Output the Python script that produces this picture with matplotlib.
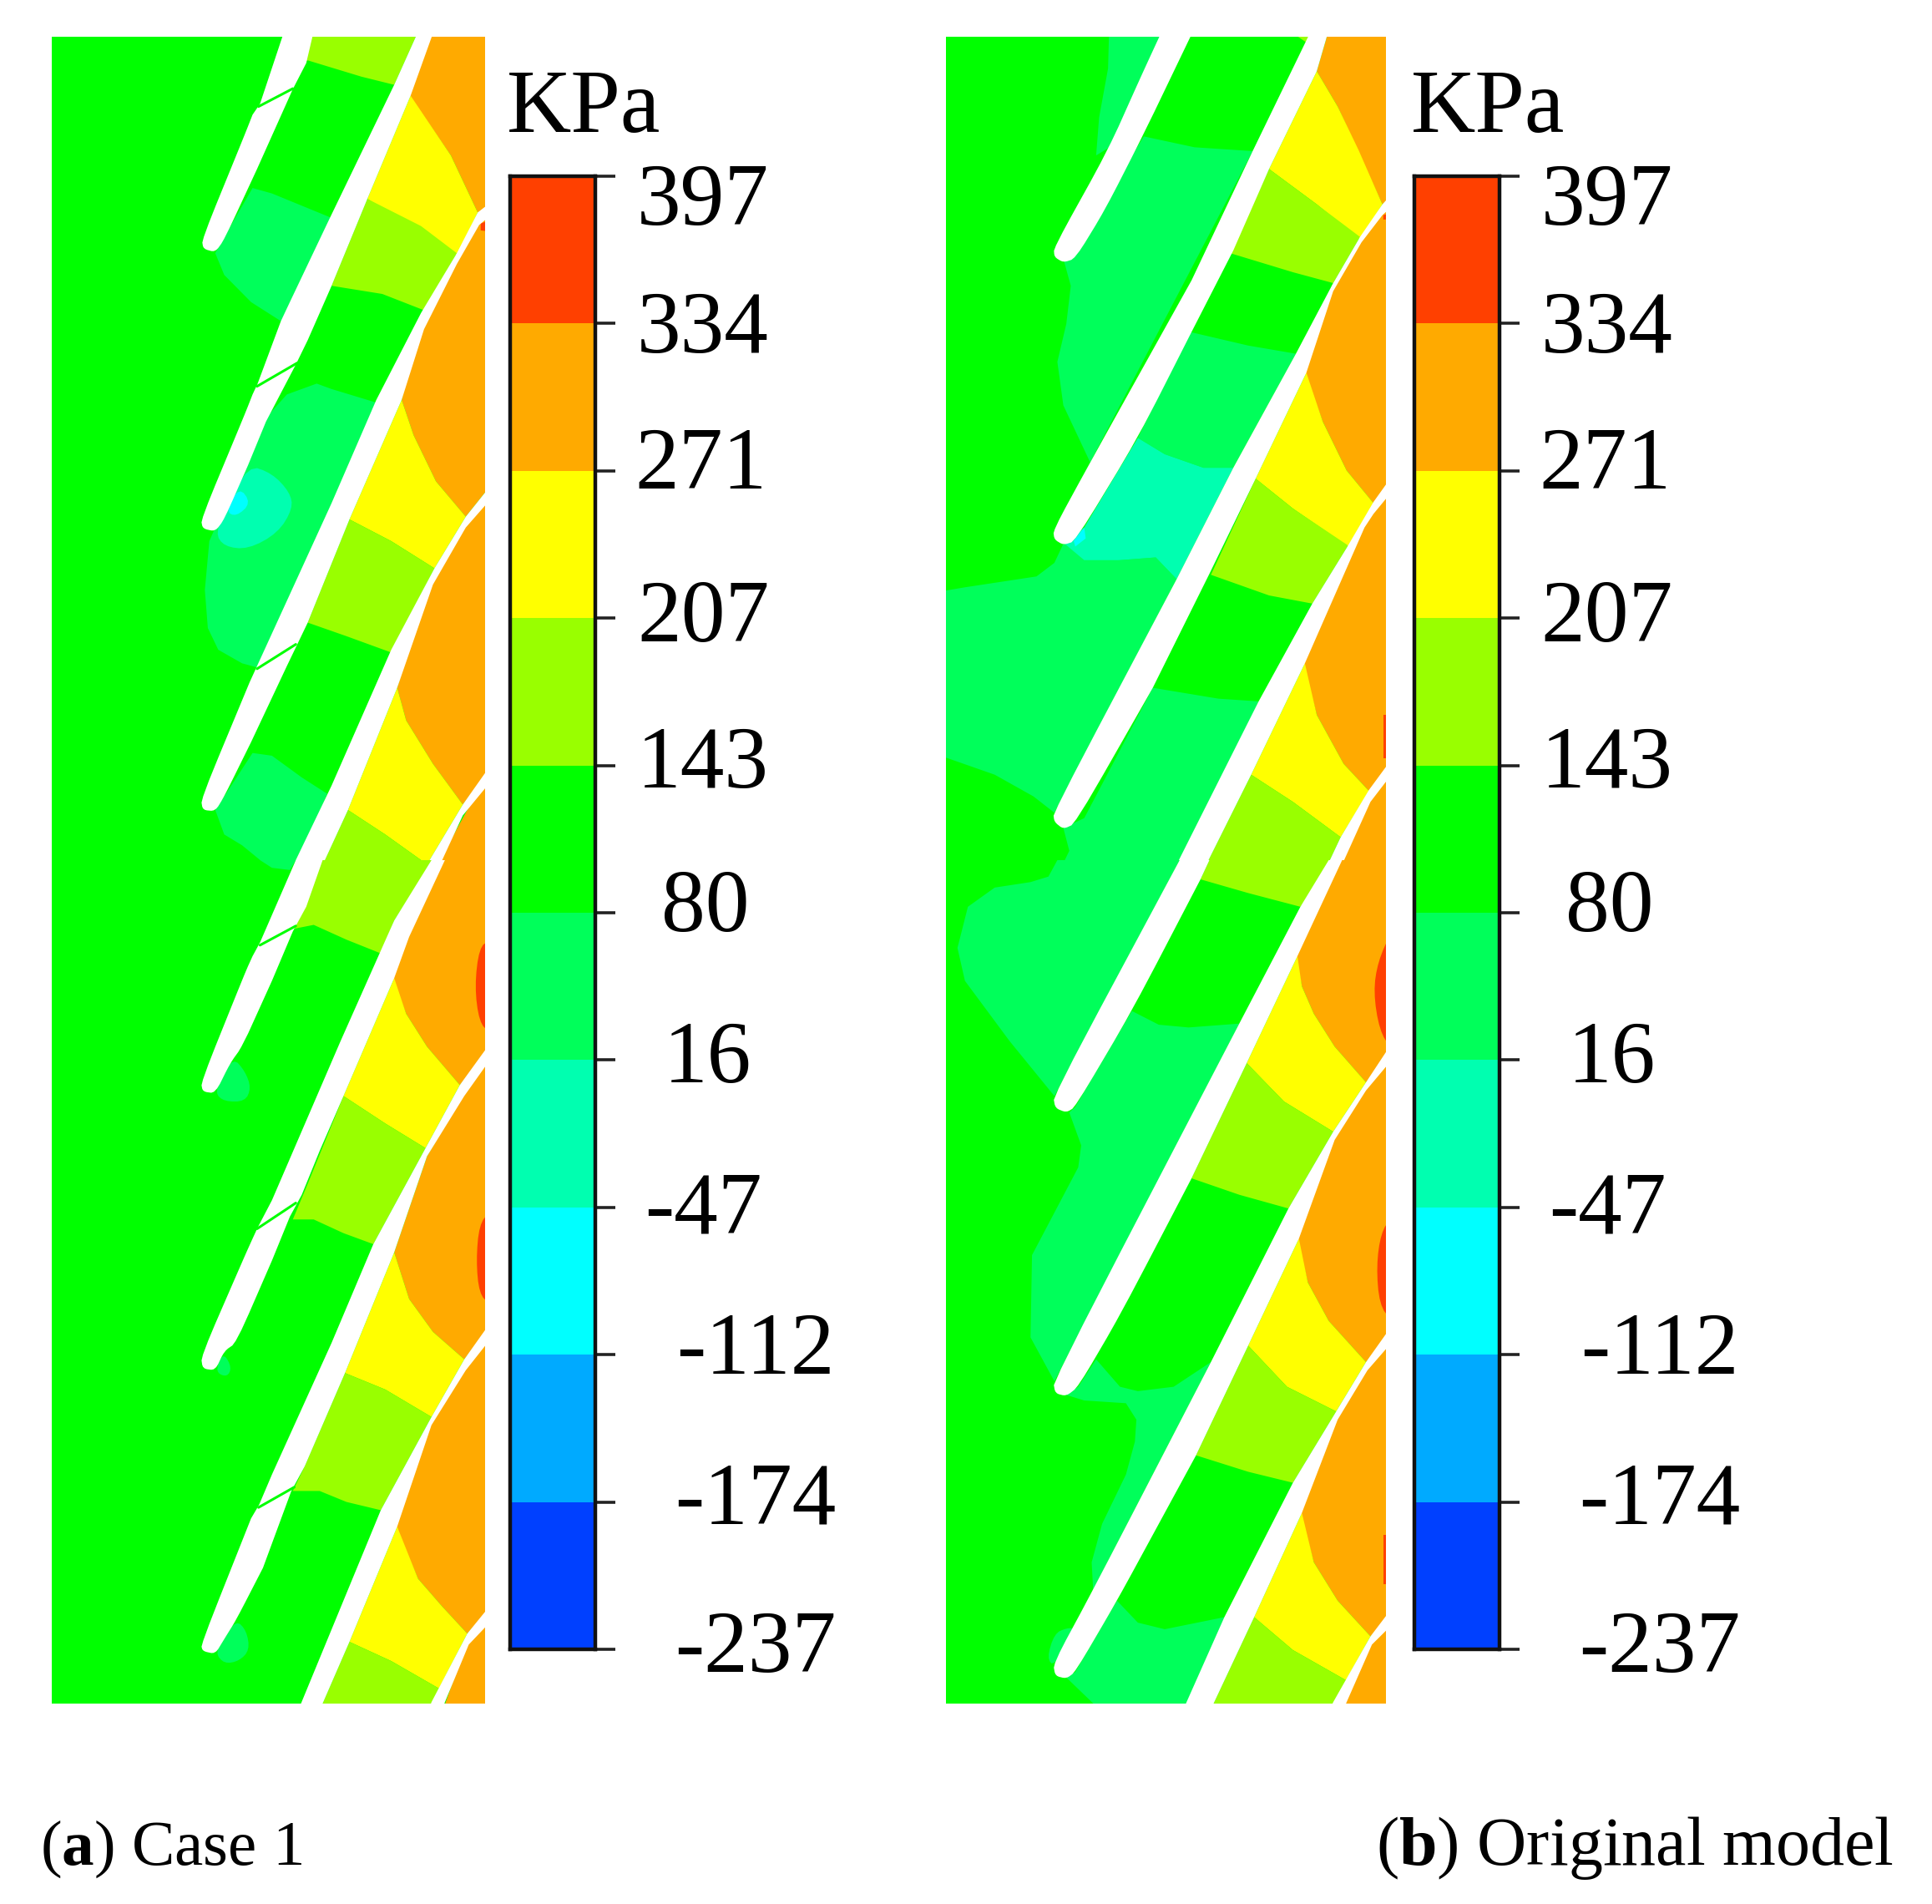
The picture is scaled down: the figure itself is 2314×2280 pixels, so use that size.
import numpy as np
import matplotlib
matplotlib.use("Agg")
import matplotlib.pyplot as plt
from matplotlib.colors import ListedColormap, BoundaryNorm

W, H = 2314, 2280
plt.rcParams['font.family'] = ['Liberation Serif', 'DejaVu Serif']
plt.rcParams['mathtext.fontset'] = 'custom'
plt.rcParams['mathtext.rm'] = 'Liberation Serif'
plt.rcParams['mathtext.bf'] = 'Liberation Serif:bold'

LEVELS = [-237, -174, -112, -47, 16, 80, 143, 207, 271, 334, 397]
COLORS = ['#0040FF', '#00AAFF', '#00FFFF', '#00FFB0', '#00FF5A',
          '#00FF00', '#99FF00', '#FFFF00', '#FFAA00', '#FF4000']
UNIT = 'KPa'
CAPTIONS = [r'($\mathbf{a}$) Case 1', r'($\mathbf{b}$) Original model']

# pressure read for each contour band (kPa)
R, O, Y, L, G, S, A, C = 365, 302, 239, 175, 111, 48, -15, -80

# contour regions: (pressure, outline, smooth?)
REGIONS_A_UP = [
    (L, [(940,0),(1300,0),(1210,110),(1100,95),(920,65),(900,70)], 0),
    (S, [(735,300),(800,310),(1000,355),(860,540),(830,545),(730,510),(640,460),(610,420),(640,390)], 0),
    (O, [(1340,0),(1530,0),(1530,335),(1490,345),(1400,240),(1262,130)], 0),
    (Y, [(1265,130),(1400,240),(1490,345),(1420,425),(1300,380),(1120,320)], 0),
    (L, [(1120,320),(1300,370),(1420,420),(1310,525),(1170,495),(1000,480)], 0),
    (S, [(850,680),(950,660),(1000,670),(1150,695),(800,1190),(700,1175),(620,1150),(585,1110),(575,1040),(590,950),(610,925),(720,760)], 0),
    (A, [(720,810),(800,825),(860,860),(870,890),(820,935),(720,965),(640,960),(610,935),(650,890)], 1),
    (C, [(690,850),(730,880),(680,905),(645,895)], 1),
    (O, [(1530,340),(1420,425),(1300,545),(1235,690),(1275,755),(1350,840),(1450,905),(1530,850)], 0),
    (R, [(1490,885),(1530,865),(1530,910),(1490,905)], 0),
    (R, [(1500,365),(1530,360),(1530,380),(1500,378)], 0),
    (Y, [(1235,690),(1275,755),(1350,840),(1450,905),(1345,1000),(1200,950),(1060,910)], 0),
    (L, [(1060,910),(1200,950),(1345,1000),(1200,1155),(1050,1125),(920,1100)], 0),
    (S, [(735,1340),(800,1345),(900,1385),(985,1415),(850,1600),(800,1555),(700,1510),(640,1490),(610,1445)], 0),
    (O, [(1530,860),(1440,915),(1330,1020),(1220,1220),(1250,1280),(1340,1360),(1440,1435),(1530,1370)], 0),
    (Y, [(1220,1220),(1250,1280),(1340,1360),(1440,1435),(1320,1545),(1180,1490),(1055,1445)], 0),
    (L, [(1055,1445),(1180,1490),(1320,1545),(1300,1600),(925,1600)], 0),
    (R, [(1480,1430),(1530,1390),(1530,1435)], 0),
    (O, [(1530,1370),(1300,1600),(1530,1600)], 0),
]
BLADES_A_UP = [
    [(848,0),(760,145),(735,165),(710,200),(565,395),(570,412),(610,418),(640,395),(750,265),(870,118),(915,70),(945,0)],
    [(1300,0),(1210,110),(990,360),(860,510),(830,545),(752,660),(735,680),(710,715),(562,910),(568,927),(610,932),(640,910),(720,810),(780,730),(880,625),(920,580),(1000,480),(1120,320),(1265,130),(1350,0)],
    [(1530,328),(1490,345),(1420,420),(1300,530),(1150,690),(1000,880),(800,1120),(750,1180),(725,1210),(562,1425),(568,1445),(610,1447),(640,1420),(730,1320),(850,1180),(885,1140),(920,1100),(1060,910),(1235,690),(1310,560),(1420,440),(1495,368),(1530,352)],
    [(1530,850),(1450,905),(1345,1000),(1200,1150),(1000,1400),(825,1600),(925,1600),(1055,1445),(1220,1220),(1340,1030),(1450,925),(1530,875)],
    [(1530,1365),(1440,1435),(1320,1545),(1280,1600),(1320,1600),(1345,1568),(1440,1455),(1530,1395)],
]
SLITS_A_UP = [[(755,150),(870,117)], [(750,665),(885,622)], [(750,1185),(880,1140)]]

REGIONS_A_LO = [
    (S, [(760,0),(880,0),(860,18),(800,14)], 0),
    (L, [(960,0),(1340,0),(1210,110),(1165,170),(1050,145),(940,118),(875,125),(905,90)], 0),
    (S, [(670,360),(710,385),(730,415),(710,440),(640,440),(610,425),(630,400)], 1),
    (O, [(1375,0),(1530,0),(1530,345),(1430,410),(1320,340),(1250,280),(1205,215),(1255,135)], 0),
    (R, [(1530,145),(1495,160),(1480,230),(1495,295),(1530,315)], 1),
    (Y, [(1210,215),(1250,280),(1320,340),(1430,410),(1315,525),(1180,480),(1040,430)], 0),
    (L, [(1040,430),(1180,480),(1315,525),(1140,700),(1040,680),(940,655),(870,655),(920,590)], 0),
    (S, [(640,900),(665,925),(650,942),(615,935),(620,915)], 1),
    (R, [(1470,410),(1530,365),(1530,410)], 0),
    (O, [(1530,345),(1320,540),(1210,715),(1260,800),(1340,860),(1445,910),(1530,850)], 0),
    (R, [(1530,640),(1495,665),(1485,730),(1495,790),(1530,810)], 1),
    (R, [(1480,910),(1530,870),(1530,915)], 0),
    (Y, [(1210,715),(1260,800),(1340,860),(1445,910),(1335,1015),(1180,965),(1045,935)], 0),
    (L, [(1045,935),(1180,965),(1335,1015),(1165,1185),(1050,1170),(960,1150),(870,1150),(910,1105)], 0),
    (S, [(680,1385),(715,1405),(725,1440),(690,1460),(640,1465),(610,1445),(640,1420)], 1),
    (O, [(1530,850),(1445,920),(1330,1025),(1215,1215),(1290,1310),(1370,1360),(1455,1410),(1530,1365)], 0),
    (Y, [(1220,1215),(1290,1310),(1370,1360),(1455,1410),(1360,1510),(1200,1460),(1060,1425)], 0),
    (L, [(1060,1425),(1200,1460),(1360,1510),(1310,1600),(920,1600)], 0),
    (R, [(1480,1420),(1530,1385),(1530,1420)], 0),
    (O, [(1530,1365),(1455,1425),(1340,1600),(1530,1600)], 0),
]
BLADES_A_LO = [
    [(880,0),(760,150),(735,175),(710,205),(562,405),(568,422),(610,425),(660,370),(700,340),(800,220),(870,130),(915,85),(970,0)],
    [(1335,0),(1210,110),(1030,330),(800,620),(752,670),(735,690),(710,720),(562,905),(568,927),(610,930),(640,895),(680,880),(800,730),(860,650),(900,610),(960,530),(1040,430),(1210,215),(1260,140),(1380,0)],
    [(1530,335),(1430,410),(1315,525),(1140,700),(1000,880),(800,1120),(757,1175),(730,1200),(562,1430),(568,1442),(610,1447),(640,1420),(680,1385),(770,1290),(865,1150),(910,1105),(1045,935),(1210,715),(1320,540),(1445,430),(1530,365)],
    [(1530,845),(1445,910),(1335,1015),(1165,1185),(850,1600),(920,1600),(1060,1425),(1220,1215),(1335,1030),(1450,930),(1530,875)],
    [(1530,1360),(1455,1410),(1335,1535),(1290,1600),(1340,1600),(1380,1535),(1460,1430),(1530,1390)],
]
SLITS_A_LO = [[(760,155),(880,120)], [(750,672),(880,625)], [(755,1180),(875,1143)]]

REGIONS_B_UP = [
    (S, [(585,-20),(800,-20),(600,220),(540,240),(550,170),(580,80)], 0),
    (L, [(1160,0),(1290,0),(1245,32)], 0),
    (S, [(700,205),(870,225),(1065,232),(520,805),(430,700),(410,620),(440,550),(455,480),(430,430),(490,390)], 0),
    (O, [(1325,0),(1530,0),(1530,315),(1500,330),(1350,150),(1280,85)], 0),
    (Y, [(1280,85),(1350,150),(1420,230),(1500,330),(1425,395),(1280,330),(1120,265)], 0),
    (L, [(1120,265),(1280,330),(1425,390),(1335,475),(1200,455),(990,420)], 0),
    (S, [(855,565),(1050,590),(1210,605),(1000,815),(900,815),(770,790),(680,760)], 0),
    (S, [(-60,1050),(100,1035),(340,1015),(400,990),(430,955),(620,985),(740,980),(810,1020),(400,1450),(330,1420),(200,1380),(-60,1330)], 0),
    (A, [(680,760),(770,790),(900,815),(1000,815),(810,1020),(740,980),(620,985),(500,985),(435,955),(500,925)], 0),
    (C, [(465,950),(500,925),(505,945),(470,960)], 0),
    (O, [(1530,320),(1425,395),(1330,480),(1240,640),(1300,730),(1380,820),(1470,880),(1530,835)], 0),
    (R, [(1475,905),(1530,865),(1530,910)], 0),
    (R, [(1503,350),(1530,345),(1530,358),(1503,358)], 0),
    (Y, [(1245,640),(1300,730),(1380,820),(1470,880),(1385,960),(1200,890),(1075,835)], 0),
    (L, [(1075,835),(1200,890),(1385,958),(1265,1065),(1120,1050),(925,1012)], 0),
    (S, [(730,1220),(950,1240),(1085,1245),(790,1600),(380,1600),(450,1520),(430,1478),(500,1460)], 0),
    (O, [(1530,840),(1430,920),(1235,1175),(1280,1270),(1370,1360),(1455,1410),(1530,1355)], 0),
    (R, [(1465,1430),(1530,1385),(1530,1435)], 0),
    (R, [(1503,1270),(1530,1270),(1530,1350),(1503,1350)], 0),
    (Y, [(1240,1175),(1280,1270),(1370,1360),(1455,1410),(1360,1495),(1200,1430),(1060,1380)], 0),
    (L, [(1060,1380),(1200,1430),(1360,1495),(1270,1600),(860,1600)], 0),
    (O, [(1530,1365),(1270,1600),(1530,1600)], 0),
]
BLADES_B_UP = [
    [(770,0),(690,95),(580,230),(398,410),(400,427),(430,437),(470,430),(570,340),(700,200),(875,0)],
    [(1270,0),(1065,232),(860,470),(520,805),(396,930),(400,947),(430,957),(470,950),(680,760),(860,565),(1000,415),(1120,265),(1280,85),(1325,0)],
    [(1530,312),(1500,330),(1425,390),(1335,475),(1210,605),(1000,815),(810,1020),(396,1450),(400,1467),(430,1480),(470,1470),(730,1220),(920,1010),(1075,835),(1245,640),(1335,490),(1430,400),(1500,350),(1530,335)],
    [(1530,832),(1470,878),(1385,958),(1265,1065),(1085,1245),(760,1600),(860,1600),(1060,1380),(1240,1175),(1440,925),(1470,900),(1530,860)],
    [(1530,1352),(1455,1408),(1360,1495),(1270,1600),(1320,1600),(1460,1430),(1530,1380)],
]

REGIONS_B_LO = [
    (S, [(430,-20),(840,-20),(400,430),(340,390),(250,330),(100,220),(75,160),(110,85),(200,50),(320,40),(380,30)], 0),
    (L, [(920,0),(1340,0),(1225,85),(1050,60),(890,35)], 0),
    (S, [(660,275),(750,300),(850,305),(1020,298),(400,950),(320,870),(325,720),(480,560),(490,520),(450,460),(470,450)], 0),
    (O, [(1360,0),(1530,0),(1530,345),(1445,405),(1340,340),(1270,280),(1230,230),(1210,175)], 0),
    (R, [(1530,130),(1485,185),(1470,240),(1490,310),(1530,345)], 1),
    (R, [(1460,420),(1530,365),(1530,425),(1480,430)], 0),
    (Y, [(1215,175),(1230,230),(1270,280),(1340,340),(1445,405),(1335,495),(1170,440),(1045,370)], 0),
    (L, [(1045,370),(1170,440),(1335,495),(1185,635),(1020,610),(860,580)], 0),
    (S, [(480,960),(540,910),(620,960),(680,968),(800,960),(925,915),(530,1330),(525,1280),(560,1210),(640,1120),(670,1060),(675,1020),(640,990),(500,985),(440,975)], 0),
    (O, [(1530,340),(1440,410),(1335,505),(1215,690),(1250,770),(1320,840),(1445,915),(1530,860)], 0),
    (R, [(1530,650),(1495,680),(1480,740),(1490,810),(1530,840)], 1),
    (R, [(1465,930),(1530,880),(1530,940),(1480,940)], 0),
    (Y, [(1220,690),(1250,770),(1320,840),(1445,915),(1345,1005),(1180,960),(1050,885)], 0),
    (L, [(1050,885),(1180,960),(1345,1005),(1200,1135),(1050,1115),(875,1085)], 0),
    (S, [(610,1350),(680,1390),(770,1402),(970,1380),(810,1600),(650,1600),(440,1490),(470,1480)], 0),
    (S, [(375,1455),(400,1410),(440,1400),(470,1400),(400,1470)], 1),
    (O, [(1530,860),(1445,920),(1345,1010),(1225,1190),(1270,1280),(1350,1350),(1460,1415),(1530,1375)], 0),
    (R, [(1503,1230),(1530,1230),(1530,1320),(1503,1320)], 0),
    (R, [(1475,1435),(1530,1385),(1530,1440)], 0),
    (Y, [(1230,1190),(1270,1280),(1350,1350),(1460,1415),(1378,1495),(1200,1440),(1070,1380)], 0),
    (L, [(1070,1380),(1200,1440),(1378,1495),(1290,1600),(880,1600)], 0),
    (O, [(1530,1365),(1460,1420),(1320,1600),(1530,1600)], 0),
]
BLADES_B_LO = [
    [(820,0),(396,430),(403,452),(440,460),(470,450),(660,275),(890,35),(920,0)],
    [(1320,0),(1225,85),(1020,298),(396,950),(403,972),(440,977),(480,960),(620,830),(860,580),(1045,370),(1215,175),(1365,0)],
    [(1530,335),(1445,405),(1335,495),(1185,635),(925,915),(530,1330),(396,1465),(403,1487),(440,1492),(470,1480),(610,1350),(750,1210),(875,1085),(1050,885),(1220,690),(1340,510),(1445,420),(1530,365)],
    [(1530,850),(1445,915),(1345,1005),(1200,1135),(970,1380),(790,1600),(880,1600),(1070,1380),(1230,1190),(1350,1020),(1450,930),(1530,880)],
    [(1530,1365),(1460,1415),(1335,1535),(1280,1600),(1330,1600),(1380,1535),(1465,1430),(1530,1395)],
]

# layout: zoom frames used to trace the outlines (origin and scale, image px)
UP = dict(y0=30, ky=1568/1020)
LO = dict(y0=1030, ky=1568/1030)
PANEL_A = dict(x0=40, left=62, right=581, top=44, bottom=2040, seam=1030)
PANEL_B = dict(x0=1120, left=1133, right=1660, top=44, bottom=2040, seam=1030)
KX = 2.8
BAR_TOP, BAR_BOTTOM = 211, 1975
BAR_A = (611, 713)
BAR_B = (1694, 1796)

NORM = BoundaryNorm(LEVELS, len(COLORS))
CMAP = ListedColormap(COLORS)


def chaikin(pts, n=2):
    p = np.asarray(pts, float)
    for _ in range(n):
        q = np.roll(p, -1, axis=0)
        p = np.column_stack([0.75 * p + 0.25 * q, 0.25 * p + 0.75 * q]).reshape(-1, 2)
    return p


def round_nose(pts, limit=720, n=2):
    """Round only the blade's leading end, keep the long straight edges."""
    p = [tuple(v) for v in pts]
    for _ in range(n):
        out = []
        for i, v in enumerate(p):
            if v[0] < limit:
                a, b = np.array(p[i - 1]), np.array(p[(i + 1) % len(p)])
                v = np.array(v)
                out += [tuple(0.8 * v + 0.2 * a), tuple(0.8 * v + 0.2 * b)]
            else:
                out.append(v)
        p = out
    return p


def to_px(pts, panel, frame):
    p = np.asarray(pts, float)
    return np.column_stack([panel['x0'] + p[:, 0] / KX, frame['y0'] + p[:, 1] / frame['ky']])


def axes_px(l, t, r, b):
    return fig.add_axes([l / W, 1 - b / H, (r - l) / W, (b - t) / H])


def draw_tile(ax, panel, frame, regions, blades, slits, y_from, y_to):
    clip = plt.Rectangle((panel['left'], y_from), panel['right'] - panel['left'], y_to - y_from,
                         transform=ax.transData)
    base = plt.Rectangle((panel['left'], y_from), panel['right'] - panel['left'], y_to - y_from,
                         fc=CMAP(NORM(G)), ec='none')
    ax.add_patch(base)
    for value, pts, smooth in regions:
        p = to_px(chaikin(pts) if smooth else pts, panel, frame)
        f, = ax.fill(p[:, 0], p[:, 1], color=CMAP(NORM(value)), lw=0)
        f.set_clip_path(clip)
    for pts in blades:
        p = to_px(round_nose(pts), panel, frame)
        f, = ax.fill(p[:, 0], p[:, 1], color='white', lw=0)
        f.set_clip_path(clip)
    for pts in slits:
        p = to_px(pts, panel, frame)
        l, = ax.plot(p[:, 0], p[:, 1], color=CMAP(NORM(G)), lw=2.2, solid_capstyle='round')
        l.set_clip_path(clip)


def draw_panel(panel, up, lo):
    ax = axes_px(panel['left'], panel['top'], panel['right'], panel['bottom'])
    ax.set_xlim(panel['left'], panel['right'])
    ax.set_ylim(panel['bottom'], panel['top'])
    ax.axis('off')
    draw_tile(ax, panel, UP, *up, panel['top'], panel['seam'] + 1)
    draw_tile(ax, panel, LO, *lo, panel['seam'], panel['bottom'])


# label centres, listed from the top of the bar down
LABEL_X = [842, 842, 839, 842, 842, 845, 847, 842, 905, 905, 905]
LABEL_Y = [244, 397, 560, 743, 918, 1090, 1271, 1451, 1620, 1799, 1977]


def draw_bar(bar, dx):
    ax = axes_px(bar[0], BAR_TOP, bar[1], BAR_BOTTOM)
    mids = [(a + b) / 2 for a, b in zip(LEVELS[:-1], LEVELS[1:])]
    ax.pcolormesh([0, 1], np.arange(len(LEVELS)), np.array(mids)[:, None], cmap=CMAP, norm=NORM)
    ax.set_xticks([])
    ax.set_yticks(np.arange(len(LEVELS)))
    ax.tick_params(axis='y', left=False, right=True, labelleft=False, length=17, width=2.6, color='#222222')
    for s in ax.spines.values():
        s.set_linewidth(3.2)
        s.set_color('#111111')
    for lev, x, y in zip(LEVELS[::-1], LABEL_X, LABEL_Y):
        fig.text((x + dx) / W, 1 - y / H, str(lev), ha='center', va='center', fontsize=76, color='black')
    fig.text((bar[0] - 4) / W, 1 - 158 / H, UNIT, ha='left', va='baseline', fontsize=77, color='black')


fig = plt.figure(figsize=(W / 100, H / 100), dpi=100, facecolor='white')

draw_panel(PANEL_A, (REGIONS_A_UP, BLADES_A_UP, SLITS_A_UP), (REGIONS_A_LO, BLADES_A_LO, SLITS_A_LO))
draw_panel(PANEL_B, (REGIONS_B_UP, BLADES_B_UP, []), (REGIONS_B_LO, BLADES_B_LO, []))
draw_bar(BAR_A, 0)
draw_bar(BAR_B, BAR_B[0] - BAR_A[0])

fig.text(48 / W, 1 - 2233 / H, CAPTIONS[0], ha='left', va='baseline', fontsize=55.5, color='black')
fig.text(2268 / W, 1 - 2233 / H, CAPTIONS[1], ha='right', va='baseline', fontsize=59, color='black')

fig.savefig('out.png', dpi=100, facecolor='white')
